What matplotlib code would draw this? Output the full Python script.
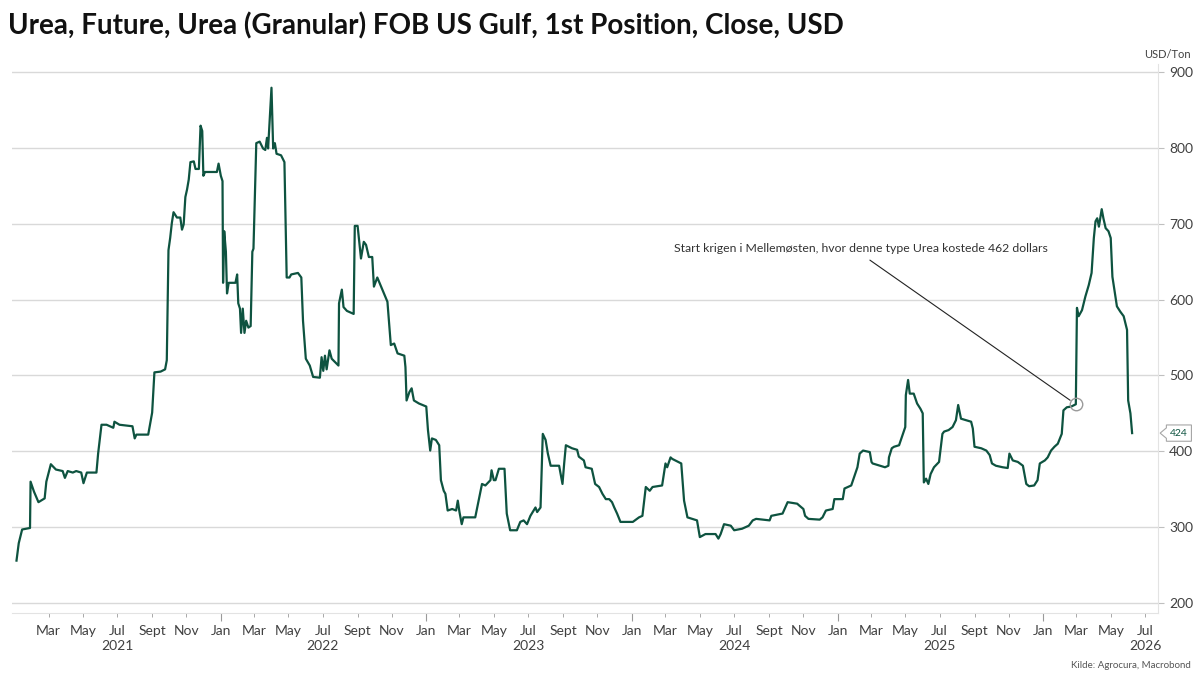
import matplotlib
matplotlib.use("Agg")
import matplotlib.pyplot as plt
import matplotlib.dates as mdates
import matplotlib.ticker as mticker
import matplotlib.transforms as mtransforms
from matplotlib.path import Path
import pandas as pd

plt.rcParams['font.family'] = ['Lato', 'DejaVu Sans']

TITLE = "Urea, Future, Urea (Granular) FOB US Gulf, 1st Position, Close, USD"
UNIT = "USD/Ton"
SOURCE = "Kilde: Agrocura, Macrobond"
NOTE = "Start krigen i Mellemøsten, hvor denne type Urea kostede 462 dollars"
NOTE_DATE = "2026-02-28"
NOTE_VALUE = 462
NOTE_TEXT_POS = ("2025-02-12", 667)
LAST_LABEL = "424"

dates = [
    "2021-01-03", "2021-01-07", "2021-01-13", "2021-01-27", "2021-01-28", "2021-02-03", "2021-02-11",
    "2021-02-22", "2021-02-25", "2021-03-05", "2021-03-14", "2021-03-26", "2021-03-30", "2021-04-04",
    "2021-04-13", "2021-04-19", "2021-04-28", "2021-05-02", "2021-05-08", "2021-05-25", "2021-05-28",
    "2021-06-03", "2021-06-12", "2021-06-24", "2021-06-26", "2021-07-05", "2021-07-28", "2021-08-01",
    "2021-08-04", "2021-08-25", "2021-09-01", "2021-09-05", "2021-09-16", "2021-09-24", "2021-09-27",
    "2021-09-30", "2021-10-03", "2021-10-06", "2021-10-09", "2021-10-15", "2021-10-21", "2021-10-24",
    "2021-10-27", "2021-10-30", "2021-11-02", "2021-11-05", "2021-11-08", "2021-11-14", "2021-11-17",
    "2021-11-23", "2021-11-26", "2021-11-29", "2021-12-01", "2021-12-04", "2021-12-25", "2021-12-28",
    "2022-01-01", "2022-01-04", "2022-01-05", "2022-01-07", "2022-01-10", "2022-01-12", "2022-01-15",
    "2022-01-27", "2022-01-30", "2022-02-01", "2022-02-04", "2022-02-06", "2022-02-09", "2022-02-12",
    "2022-02-15", "2022-02-19", "2022-02-23", "2022-02-26", "2022-02-28", "2022-03-05", "2022-03-11",
    "2022-03-17", "2022-03-21", "2022-03-24", "2022-03-26", "2022-04-01", "2022-04-04", "2022-04-07",
    "2022-04-10", "2022-04-18", "2022-04-24", "2022-04-28", "2022-05-03", "2022-05-06", "2022-05-18",
    "2022-05-24", "2022-05-27", "2022-06-01", "2022-06-08", "2022-06-14", "2022-06-26", "2022-06-29",
    "2022-07-02", "2022-07-05", "2022-07-08", "2022-07-13", "2022-07-17", "2022-07-29", "2022-07-30",
    "2022-08-04", "2022-08-07", "2022-08-13", "2022-08-25", "2022-08-27", "2022-09-01", "2022-09-07",
    "2022-09-12", "2022-09-16", "2022-09-21", "2022-09-27", "2022-09-30", "2022-10-06", "2022-10-15",
    "2022-10-24", "2022-10-30", "2022-11-05", "2022-11-11", "2022-11-23", "2022-11-25", "2022-11-27",
    "2022-12-02", "2022-12-06", "2022-12-10", "2022-12-19",
    "2023-01-01", "2023-01-04", "2023-01-08", "2023-01-11", "2023-01-18", "2023-01-24", "2023-01-27",
    "2023-02-01", "2023-02-04", "2023-02-08", "2023-02-16", "2023-02-23", "2023-02-26", "2023-03-01",
    "2023-03-05", "2023-03-08", "2023-03-29", "2023-04-04", "2023-04-10", "2023-04-16", "2023-04-25",
    "2023-04-27", "2023-05-01", "2023-05-04", "2023-05-10", "2023-05-20", "2023-05-24", "2023-05-30",
    "2023-06-11", "2023-06-17", "2023-06-23", "2023-06-29", "2023-07-05", "2023-07-14", "2023-07-17",
    "2023-07-23", "2023-07-27", "2023-08-01", "2023-08-05", "2023-08-10", "2023-08-25", "2023-08-31",
    "2023-09-03", "2023-09-06", "2023-09-17", "2023-09-26", "2023-09-29", "2023-10-08", "2023-10-11",
    "2023-10-22", "2023-10-28", "2023-11-04", "2023-11-10", "2023-11-16", "2023-11-22", "2023-11-27",
    "2023-12-01", "2023-12-06", "2023-12-12",
    "2024-01-03", "2024-01-14", "2024-01-20", "2024-01-26", "2024-02-02", "2024-02-07", "2024-02-24",
    "2024-03-01", "2024-03-04", "2024-03-10", "2024-03-13", "2024-03-29", "2024-04-03", "2024-04-09",
    "2024-04-26", "2024-05-01", "2024-05-11", "2024-05-29", "2024-06-03", "2024-06-07", "2024-06-13",
    "2024-06-25", "2024-07-01", "2024-07-15", "2024-07-27", "2024-08-03", "2024-08-09", "2024-09-02",
    "2024-09-05", "2024-09-25", "2024-10-04", "2024-10-21", "2024-10-24", "2024-11-01", "2024-11-04",
    "2024-11-10", "2024-11-30", "2024-12-05", "2024-12-11", "2024-12-23", "2024-12-26",
    "2025-01-10", "2025-01-13", "2025-01-25", "2025-02-01", "2025-02-05", "2025-02-09", "2025-02-15",
    "2025-02-27", "2025-03-02", "2025-03-04", "2025-03-26", "2025-04-01", "2025-04-02", "2025-04-07",
    "2025-04-11", "2025-04-20", "2025-04-25", "2025-05-01", "2025-05-02", "2025-05-06", "2025-05-09",
    "2025-05-16", "2025-05-22", "2025-05-28", "2025-06-01", "2025-06-03", "2025-06-07", "2025-06-11",
    "2025-06-15", "2025-06-21", "2025-06-30", "2025-07-06", "2025-07-09", "2025-07-17", "2025-07-24",
    "2025-07-30", "2025-08-03", "2025-08-08", "2025-08-17", "2025-08-26", "2025-08-29", "2025-09-01",
    "2025-09-13", "2025-09-22", "2025-09-28", "2025-10-02", "2025-10-09", "2025-10-21", "2025-10-30",
    "2025-11-02", "2025-11-08", "2025-11-17", "2025-11-26", "2025-12-02", "2025-12-07", "2025-12-16",
    "2025-12-22", "2025-12-26",
    "2026-01-04", "2026-01-09", "2026-01-15", "2026-01-21", "2026-01-27", "2026-02-03", "2026-02-06",
    "2026-02-12", "2026-02-20", "2026-02-28", "2026-03-02", "2026-03-05", "2026-03-11", "2026-03-17",
    "2026-03-23", "2026-03-28", "2026-04-01", "2026-04-04", "2026-04-07", "2026-04-10", "2026-04-15",
    "2026-04-18", "2026-04-22", "2026-04-27", "2026-05-01", "2026-05-04", "2026-05-12", "2026-05-18",
    "2026-05-24", "2026-05-30", "2026-06-01", "2026-06-05", "2026-06-08",
]

prices = [
    256, 279, 297, 299, 360, 347, 333,
    338, 360, 383, 376, 374, 365, 374,
    372, 374, 372, 358, 372, 372, 397,
    435, 435, 431, 439, 435, 433, 417,
    422, 422, 451, 504, 505, 508, 520,
    665, 681, 701, 715, 708, 708, 692,
    699, 735, 745, 758, 781, 782, 772,
    772, 829, 822, 763, 768, 768, 779,
    763, 756, 622, 690, 663, 608, 622,
    622, 633, 595, 588, 556, 588, 556,
    572, 563, 565, 663, 667, 806, 808,
    799, 797, 813, 799, 879, 799, 806,
    792, 790, 781, 629, 629, 633, 635,
    629, 572, 522, 513, 498, 497, 524,
    506, 526, 508, 533, 522, 513, 595,
    613, 590, 585, 581, 697, 697, 654,
    676, 672, 656, 656, 617, 629, 613,
    597, 540, 542, 529, 526, 511, 467,
    478, 483, 467, 463,
    459, 428, 401, 417, 415, 408, 362,
    348, 344, 322, 324, 322, 335, 320,
    304, 313, 313, 335, 357, 355, 362,
    375, 362, 362, 377, 377, 318, 296,
    296, 307, 309, 304, 315, 326, 320,
    326, 423, 415, 397, 381, 381, 357,
    384, 408, 404, 402, 393, 388, 379,
    377, 357, 353, 344, 337, 337, 333,
    326, 318, 307,
    307, 313, 315, 353, 348, 353, 355,
    384, 379, 392, 390, 384, 335, 313,
    309, 287, 291, 291, 285, 291, 304,
    302, 296, 298, 302, 309, 311, 309,
    315, 318, 333, 331, 329, 324, 315,
    311, 310, 313, 322, 324, 337,
    337, 351, 355, 370, 379, 397, 401,
    399, 386, 384, 379, 381, 392, 404,
    406, 408, 419, 432, 474, 494, 476,
    476, 463, 456, 450, 359, 364, 357,
    370, 379, 386, 423, 426, 428, 432,
    441, 461, 443, 441, 439, 430, 406,
    404, 401, 395, 384, 381, 379, 378,
    397, 388, 386, 381, 357, 354, 355,
    362, 384,
    388, 392, 401, 406, 410, 423, 454,
    458, 459, 462, 589, 578, 586, 604,
    619, 635, 681, 703, 707, 696, 719,
    707, 694, 690, 681, 630, 591, 584,
    578, 560, 467, 450, 424,
]

y_ticks = [200, 300, 400, 500, 600, 700, 800, 900]
years = [2021, 2022, 2023, 2024, 2025, 2026]
month_names = {1: "Jan", 3: "Mar", 5: "May", 7: "Jul", 9: "Sept", 11: "Nov"}

LINE = "#0e5340"
GRID = "#d9d9d9"
TXT = "#404040"

x = pd.to_datetime(dates)

fig = plt.figure(figsize=(12, 6.83), dpi=100)
ax = fig.add_axes([0.01, 0.1025, 0.955, 0.8035])

ax.plot(x, prices, color=LINE, lw=1.6, solid_joinstyle="round", zorder=3)

ax.set_xlim(pd.Timestamp("2020-12-26"), pd.Timestamp("2026-07-24"))
ax.set_ylim(187, 910)

# grid
ax.set_yticks(y_ticks)
ax.yaxis.grid(True, color=GRID, lw=1)
ax.set_axisbelow(True)
for s in ["top", "left"]:
    ax.spines[s].set_visible(False)
ax.spines["right"].set_color("#e3e3e3")
ax.spines["bottom"].set_color("#e3e3e3")

ax.yaxis.tick_right()
ax.tick_params(axis="y", which="major", length=4, color="#bfbfbf", labelsize=10,
               labelcolor=TXT, pad=4)

# x ticks: Jan (long) from 2022, other odd months short
jan_ticks = [mdates.date2num(pd.Timestamp(f"{yr}-01-01")) for yr in years[1:]]
odd_ticks = [mdates.date2num(pd.Timestamp(f"{yr}-{m:02d}-01"))
             for yr in years for m in (3, 5, 7, 9, 11)]
ax.xaxis.set_major_locator(mticker.FixedLocator(jan_ticks))
ax.xaxis.set_minor_locator(mticker.FixedLocator(odd_ticks))
fmt = lambda v, pos: month_names.get(mdates.num2date(v).month, "")
ax.xaxis.set_major_formatter(plt.FuncFormatter(fmt))
ax.xaxis.set_minor_formatter(plt.FuncFormatter(fmt))
ax.tick_params(axis="x", which="major", length=6, color="#9a9a9a", labelsize=10,
               labelcolor=TXT, pad=2.5)
ax.tick_params(axis="x", which="minor", length=3, color="#9a9a9a", labelsize=10,
               labelcolor=TXT, pad=5.5)

trans = mtransforms.blended_transform_factory(ax.transData, ax.transAxes)
for yr in years:
    ax.text(pd.Timestamp(f"{yr}-07-01"), -0.06, str(yr), transform=trans,
            ha="center", va="center", fontsize=10, color=TXT)

# annotation
ax.plot([pd.Timestamp(NOTE_DATE)], [NOTE_VALUE], marker="o", ms=9, mfc="none",
        mec="#9a9a9a", mew=1, zorder=4)
ax.annotate(NOTE, xy=(pd.Timestamp(NOTE_DATE), NOTE_VALUE),
            xytext=(pd.Timestamp(NOTE_TEXT_POS[0]), NOTE_TEXT_POS[1]),
            ha="center", va="center", fontsize=8.8, color="#333333",
            arrowprops=dict(arrowstyle="-", color="#222222", lw=0.8,
                            relpos=(0.5, 0.0), shrinkA=4, shrinkB=5))


def callout(x0, y0, width, height, mutation_size):
    pad = 0.35 * mutation_size
    x0, y0 = x0 - pad, y0 - pad
    w, h = width + 2 * pad, height + 2 * pad
    n = h * 0.32
    verts = [(x0, y0), (x0 + w, y0), (x0 + w, y0 + h), (x0, y0 + h),
             (x0, y0 + h / 2 + n), (x0 - n * 1.2, y0 + h / 2), (x0, y0 + h / 2 - n),
             (x0, y0)]
    codes = [Path.MOVETO] + [Path.LINETO] * 6 + [Path.CLOSEPOLY]
    return Path(verts, codes)


ytrans = mtransforms.blended_transform_factory(ax.transAxes, ax.transData)
ax.text(1.0105, prices[-1], LAST_LABEL, transform=ytrans, ha="left", va="center",
        fontsize=7.5, color=LINE, clip_on=False,
        bbox=dict(boxstyle=callout, fc="white", ec="#a6a6a6", lw=0.8))

fig.text(0.007, 0.962, TITLE, fontsize=20, fontweight="bold", color="#111111",
         ha="left", va="center")
fig.text(0.992, 0.92, UNIT, fontsize=8, color=TXT, ha="right", va="center")
fig.text(0.992, 0.026, SOURCE, fontsize=7, color="#555555", ha="right", va="center")

fig.savefig("out.png", dpi=100)
